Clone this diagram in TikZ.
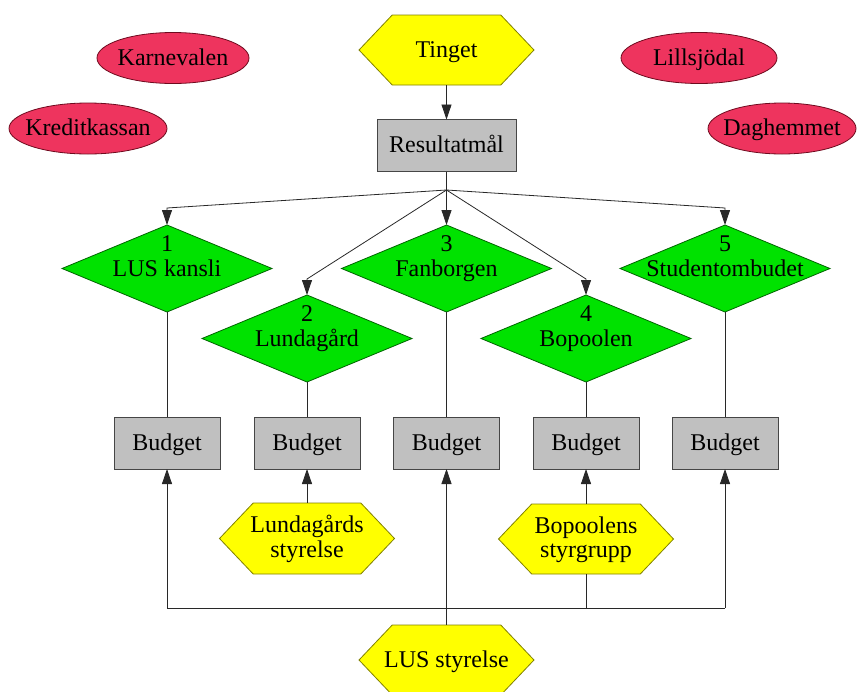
\documentclass[tikz,border=0pt]{standalone}
\usepackage{fontspec}
\setmainfont{Liberation Serif}
\usetikzlibrary{shapes.geometric,shapes.symbols,arrows.meta}
\definecolor{ovalfill}{RGB}{238,52,94}
\definecolor{ovalline}{RGB}{110,10,30}
\definecolor{hexfill}{RGB}{255,255,0}
\definecolor{hexline}{RGB}{128,128,0}
\definecolor{diafill}{RGB}{0,226,0}
\definecolor{dialine}{RGB}{0,100,0}
\definecolor{boxfill}{RGB}{192,192,192}
\definecolor{boxline}{RGB}{70,70,70}
\definecolor{wire}{RGB}{40,40,40}
\newcommand\oneline[1]{\makebox[0pt]{\raisebox{-7pt}[0pt][0pt]{#1}}}
\newcommand\twolines[3]{\makebox[0pt]{\raisebox{#1}[0pt][0pt]{#2}}\makebox[0pt]{\raisebox{\dimexpr#1-24.5pt\relax}[0pt][0pt]{#3}}}
\begin{document}
\begin{tikzpicture}[x=1pt,y=-1pt,
  font=\fontsize{24}{25}\selectfont,
  every node/.style={inner sep=0pt,outer sep=0pt},
  oval/.style={ellipse,draw=ovalline,fill=ovalfill,line width=0.8pt,minimum height=51pt},
  hexa/.style={signal,signal to=east and west,signal pointer angle=93,draw=hexline,fill=hexfill,line width=0.8pt,minimum width=175pt,minimum height=70pt},
  dia/.style={diamond,draw=dialine,fill=diafill,line width=0.8pt,minimum width=210pt,minimum height=87pt},
  boxn/.style={rectangle,draw=boxline,fill=boxfill,line width=0.8pt,minimum height=52pt},
  wirel/.style={draw=wire,line width=0.8pt},
  arr/.style={wirel,-{Triangle[length=15pt,width=10pt]}}]
\useasboundingbox (0,0) rectangle (857,691);
\clip (0,0) rectangle (857,691);
% ovals
\node[oval,minimum width=152pt] (karn) at (173,58) {\oneline{Karnevalen}};
\node[oval,minimum width=158pt] (kred) at (88,128.5) {\oneline{Kreditkassan}};
\node[oval,minimum width=156pt] (lill) at (699,58) {\oneline{Lillsjödal}};
\node[oval,minimum width=148pt] (dagh) at (782,128.5) {\oneline{Daghemmet}};
% top
\node[hexa] (ting) at (446.5,50) {\oneline{Tinget}};
\node[boxn,minimum width=139pt] (res) at (446.5,145.5) {\oneline{Resultatmål}};
% diamonds
\node[dia] (d1) at (167,268.5) {\twolines{17pt}{1}{LUS kansli}};
\node[dia] (d2) at (307,338.5) {\twolines{17pt}{2}{Lundagård}};
\node[dia] (d3) at (446.5,268.5) {\twolines{17pt}{3}{Fanborgen}};
\node[dia] (d4) at (586,338.5) {\twolines{17pt}{4}{Bopoolen}};
\node[dia] (d5) at (725,268.5) {\twolines{17pt}{5}{Studentombudet}};
% budgets
\node[boxn,minimum width=106pt] (b1) at (167,443) {\oneline{Budget}};
\node[boxn,minimum width=106pt] (b2) at (307,443) {\oneline{Budget}};
\node[boxn,minimum width=106pt] (b3) at (446.5,443) {\oneline{Budget}};
\node[boxn,minimum width=106pt] (b4) at (586,443) {\oneline{Budget}};
\node[boxn,minimum width=106pt] (b5) at (725,443) {\oneline{Budget}};
% bottom hexagons
\node[hexa,minimum height=71pt] (lsty) at (307,538.5) {\twolines{6pt}{Lundagårds}{styrelse}};
\node[hexa] (bsty) at (586,539) {\twolines{6pt}{Bopoolens}{styrgrupp}};
\node[hexa] (lus) at (446.5,660) {\oneline{LUS styrelse}};
% connectors top
\coordinate (fan) at (446.5,190);
\draw[arr] (ting) -- (res);
\draw[wirel] (res.south) -- (fan);
\draw[arr] (fan) -- ([yshift=17pt]d1.north) -- (d1.north);
\draw[arr] (fan) -- ([yshift=16pt]d2.north) -- (d2.north);
\draw[arr] (fan) -- (d3.north);
\draw[arr] (fan) -- ([yshift=16pt]d4.north) -- (d4.north);
\draw[arr] (fan) -- ([yshift=17pt]d5.north) -- (d5.north);
% diamonds to budgets
\foreach \i in {1,...,5} {\draw[wirel] (d\i.south) -- (b\i.north);}
% bottom
\coordinate (busL) at (167,608);
\coordinate (busR) at (725,608);
\draw[wirel] (busL) -- (busR);
\draw[arr] (busL) -- (b1.south);
\draw[arr] (busR) -- (b5.south);
\draw[arr] (lus.north) -- (b3.south);
\draw[arr] (lsty.north) -- (b2.south);
\draw[arr] (bsty.north) -- (b4.south);
\draw[wirel] (bsty.south) -- (bsty.south |- busL);
\end{tikzpicture}
\end{document}
